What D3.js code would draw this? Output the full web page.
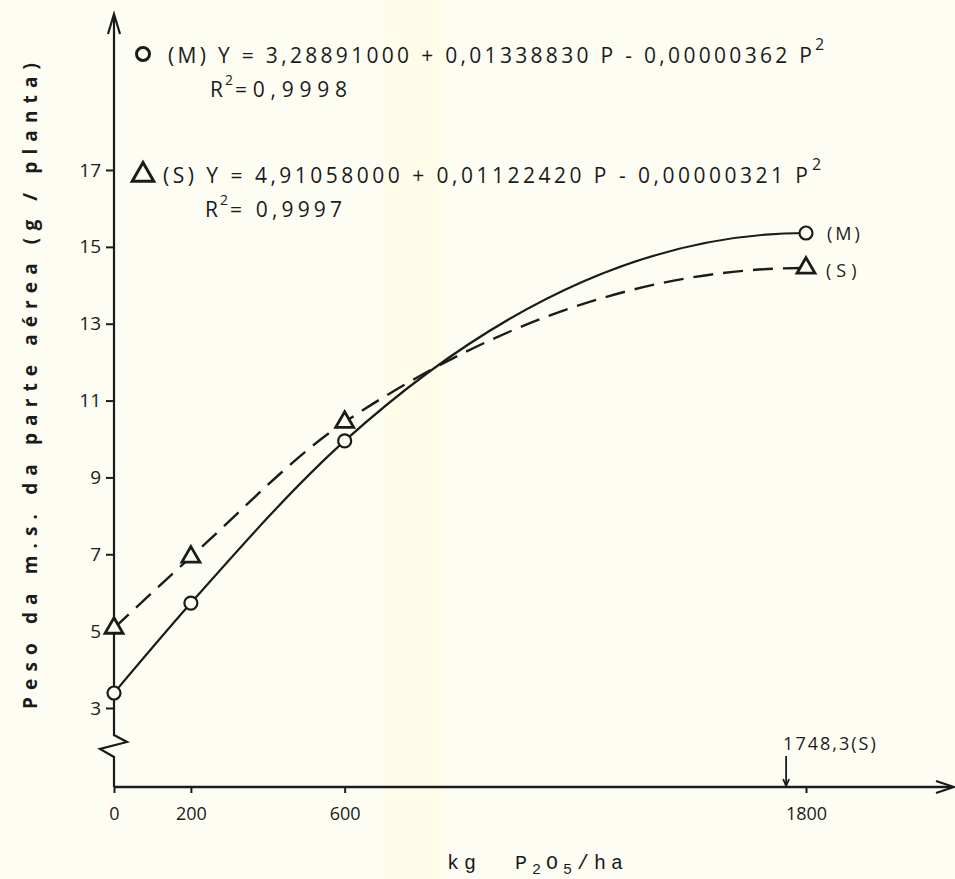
<!DOCTYPE html>
<html>
<head>
<meta charset="utf-8" />
<title>Peso da m.s. da parte aérea x P2O5</title>
<style>
html, body {
  margin: 0;
  padding: 0;
  background-color: #fefdf4;
}
svg text {
  fill: #1b1b1b;
}
</style>
</head>
<body>
<script src="https://d3js.org/d3.v7.min.js"></script>
<script>

      // ---------------------------------------------------------
      // Data

      const doses = [0, 200, 600, 1800]          // kg P2O5/ha
      const pesoM = [3.39, 5.73, 9.95, 15.36]    // (M) circles
      const pesoS = [5.08, 6.93, 10.44, 14.45]   // (S) triangles
      const xTicks = [0, 200, 600, 1800]
      const yTicks = [3, 5, 7, 9, 11, 13, 15, 17]
      const maxS = 1748.3

      const eqM = '(M) Y = 3,28891000 + 0,01338830 P - 0,00000362 P'
      const eqS = '(S) Y = 4,91058000 + 0,01122420 P - 0,00000321 P'
      const r2M = '=0,9998'
      const r2S = '= 0,9997'

      // ---------------------------------------------------------

      const w = 955
      const h = 879
      const axisX = 114
      const axisY = 787
      const ink = '#1b1b1b'
      const paper = '#fefdf4'
      const sans = '"Open Sans", "DejaVu Sans", sans-serif'

      const x = d3.scaleLinear().domain([0, 1800]).range([114, 806])
      const y = d3.scaleLinear().domain([3, 17]).range([708, 170])

      // Hermite curve like monotoneX, but levelling off at the last point
      // (the hand-drawn curves reach their plateau at 1800)
      function curvePlateau(context) {
        let pts = []
        return {
          areaStart() {}, areaEnd() {},
          lineStart() { pts = [] },
          point(px, py) { pts.push([+px, +py]) },
          lineEnd() {
            const n = pts.length
            if (!n) return
            const m = new Array(n).fill(0)
            for (let i = 1; i < n - 1; i++) {
              const h0 = pts[i][0] - pts[i - 1][0], h1 = pts[i + 1][0] - pts[i][0]
              const s0 = (pts[i][1] - pts[i - 1][1]) / h0
              const s1 = (pts[i + 1][1] - pts[i][1]) / h1
              const p = (s0 * h1 + s1 * h0) / (h0 + h1)
              m[i] = (Math.sign(s0) + Math.sign(s1)) *
                Math.min(Math.abs(s0), Math.abs(s1), 0.5 * Math.abs(p))
            }
            if (n > 1) {
              const s = (pts[1][1] - pts[0][1]) / (pts[1][0] - pts[0][0])
              m[0] = n > 2 ? (3 * s - m[1]) / 2 : s
              m[n - 1] = 0
            }
            context.moveTo(pts[0][0], pts[0][1])
            for (let i = 0; i < n - 1; i++) {
              const dx = (pts[i + 1][0] - pts[i][0]) / 3
              context.bezierCurveTo(
                pts[i][0] + dx, pts[i][1] + dx * m[i],
                pts[i + 1][0] - dx, pts[i + 1][1] - dx * m[i + 1],
                pts[i + 1][0], pts[i + 1][1])
            }
          }
        }
      }

      const svg = d3.select('body').append('svg')
        .attr('width', w)
        .attr('height', h)

      svg.append('rect')
        .attr('width', w).attr('height', h)
        .attr('fill', paper)

      // faint yellow band from the scan
      svg.append('rect')
        .attr('x', 385).attr('y', 0)
        .attr('width', 60).attr('height', h)
        .attr('fill', '#fffbe2')
        .attr('opacity', 0.6)

      // y axis with the break near the bottom
      svg.append('path')
        .attr('d', `M${axisX},${axisY} V757 L100,749 L127,742 L${axisX},735 V16`)
        .attr('fill', 'none')
        .attr('stroke', ink)
        .attr('stroke-width', 2.2)
      svg.append('path')
        .attr('d', `M${axisX - 6},34 L${axisX},14 L${axisX + 6},34`)
        .attr('fill', 'none')
        .attr('stroke', ink)
        .attr('stroke-width', 2.2)

      // x axis
      svg.append('path')
        .attr('d', `M${axisX},${axisY} H952`)
        .attr('stroke', ink)
        .attr('stroke-width', 2.4)
      svg.append('path')
        .attr('d', `M936,${axisY - 6} L954,${axisY} L936,${axisY + 6}`)
        .attr('fill', 'none')
        .attr('stroke', ink)
        .attr('stroke-width', 2.2)

      const yAxis = svg.append('g')
        .attr('transform', `translate(${axisX},0)`)
        .call(d3.axisLeft(y).tickValues(yTicks).tickSize(8).tickPadding(5))
        .attr('font-family', sans)
        .attr('font-size', 19)
      yAxis.select('.domain').remove()
      yAxis.selectAll('line').attr('stroke', ink).attr('stroke-width', 2)
      yAxis.selectAll('text').attr('fill', ink)

      const xAxis = svg.append('g')
        .attr('transform', `translate(0,${axisY})`)
        .call(d3.axisBottom(x).tickValues(xTicks).tickSize(6).tickPadding(14)
          .tickFormat(d3.format('d')))
        .attr('font-family', sans)
        .attr('font-size', 18)
      xAxis.select('.domain').remove()
      xAxis.selectAll('line').attr('stroke', ink).attr('stroke-width', 2)
      xAxis.selectAll('text').attr('fill', ink)

      // axis titles
      svg.append('text')
        .attr('transform', 'translate(37,386) rotate(-90)')
        .attr('text-anchor', 'middle')
        .attr('font-family', sans)
        .attr('font-size', 19)
        .attr('font-weight', 'bold')
        .attr('textLength', 646)
        .attr('lengthAdjust', 'spacing')
        .text('Peso da m.s. da parte aérea (g / planta)')

      const xt = svg.append('text')
        .attr('x', 447)
        .attr('y', 869)
        .attr('font-size', 20)
        .attr('letter-spacing', 5)
        .attr('font-family', '"Liberation Mono", monospace')
        .style('white-space', 'pre')
      xt.append('tspan').text('kg  P')
      xt.append('tspan').attr('dy', 5).attr('font-size', 15).text('2')
      xt.append('tspan').attr('dy', -5).text('O')
      xt.append('tspan').attr('dy', 5).attr('font-size', 15).text('5')
      xt.append('tspan').attr('dy', -5).text('/ha')

      // curves
      const line = d3.line()
        .x(d => x(d[0]))
        .y(d => y(d[1]))
        .curve(curvePlateau)

      const ptsM = doses.map((d, i) => [d, pesoM[i]])
      const ptsS = doses.map((d, i) => [d, pesoS[i]])

      svg.append('path')
        .attr('d', line(ptsS))
        .attr('fill', 'none')
        .attr('stroke', ink)
        .attr('stroke-width', 2.4)
        .attr('stroke-dasharray', '20,10')

      svg.append('path')
        .attr('d', line(ptsM))
        .attr('fill', 'none')
        .attr('stroke', ink)
        .attr('stroke-width', 2.2)

      const tri = d3.symbol().type(d3.symbolTriangle).size(140)

      svg.selectAll('.triS')
        .data(ptsS)
        .enter().append('path')
        .attr('class', 'triS')
        .attr('d', tri)
        .attr('transform', d => `translate(${x(d[0])},${y(d[1])})`)
        .attr('fill', paper)
        .attr('stroke', ink)
        .attr('stroke-width', 2.8)

      svg.selectAll('.cirM')
        .data(ptsM)
        .enter().append('circle')
        .attr('class', 'cirM')
        .attr('cx', d => x(d[0]))
        .attr('cy', d => y(d[1]))
        .attr('r', 6.5)
        .attr('fill', paper)
        .attr('stroke', ink)
        .attr('stroke-width', 2.2)

      // end labels
      svg.append('text')
        .attr('x', x(1800) + 21).attr('y', y(pesoM[3]) + 7)
        .attr('font-family', sans)
        .attr('font-size', 18).attr('letter-spacing', 3)
        .text('(M)')
      svg.append('text')
        .attr('x', x(1800) + 20).attr('y', y(pesoS[3]) + 9)
        .attr('font-family', sans)
        .attr('font-size', 18).attr('letter-spacing', 5)
        .text('(S)')

      // maximum point marker
      svg.append('text')
        .attr('x', x(maxS) - 3).attr('y', 750)
        .attr('font-family', sans)
        .attr('font-size', 18).attr('letter-spacing', 2)
        .text('1748,3(S)')
      svg.append('line')
        .attr('x1', x(maxS)).attr('x2', x(maxS))
        .attr('y1', 756).attr('y2', axisY - 2)
        .attr('stroke', ink).attr('stroke-width', 1.8)
      svg.append('path')
        .attr('d', `M${x(maxS) - 3},${axisY - 8} L${x(maxS)},${axisY - 1} L${x(maxS) + 3},${axisY - 8}`)
        .attr('fill', 'none').attr('stroke', ink).attr('stroke-width', 1.8)

      // equations
      const eq = svg.append('g').attr('font-family', sans)

      eq.append('circle')
        .attr('cx', 143).attr('cy', 54).attr('r', 6.5)
        .attr('fill', 'none').attr('stroke', ink).attr('stroke-width', 3)
      eq.append('text')
        .attr('x', 168).attr('y', 63)
        .attr('font-size', 21)
        .attr('textLength', 644).attr('lengthAdjust', 'spacing')
        .text(eqM)
      eq.append('text')
        .attr('x', 815).attr('y', 50).attr('font-size', 16).text('2')
      eq.append('text')
        .attr('x', 210).attr('y', 97).attr('font-size', 21).text('R')
      eq.append('text')
        .attr('x', 225).attr('y', 85).attr('font-size', 14).text('2')
      eq.append('text')
        .attr('x', 235).attr('y', 97).attr('font-size', 21)
        .attr('textLength', 112).attr('lengthAdjust', 'spacing')
        .text(r2M)

      eq.append('path')
        .attr('d', d3.symbol().type(d3.symbolTriangle).size(200))
        .attr('transform', 'translate(143,175)')
        .attr('fill', 'none').attr('stroke', ink).attr('stroke-width', 3)
      eq.append('text')
        .attr('x', 163).attr('y', 183)
        .attr('font-size', 21)
        .attr('textLength', 645).attr('lengthAdjust', 'spacing')
        .text(eqS)
      eq.append('text')
        .attr('x', 812).attr('y', 170).attr('font-size', 16).text('2')
      eq.append('text')
        .attr('x', 205).attr('y', 217).attr('font-size', 21).text('R')
      eq.append('text')
        .attr('x', 220).attr('y', 205).attr('font-size', 14).text('2')
      eq.append('text')
        .attr('x', 230).attr('y', 217).attr('font-size', 21)
        .attr('textLength', 112).attr('lengthAdjust', 'spacing')
        .text(r2S)

</script>
</body>
</html>
